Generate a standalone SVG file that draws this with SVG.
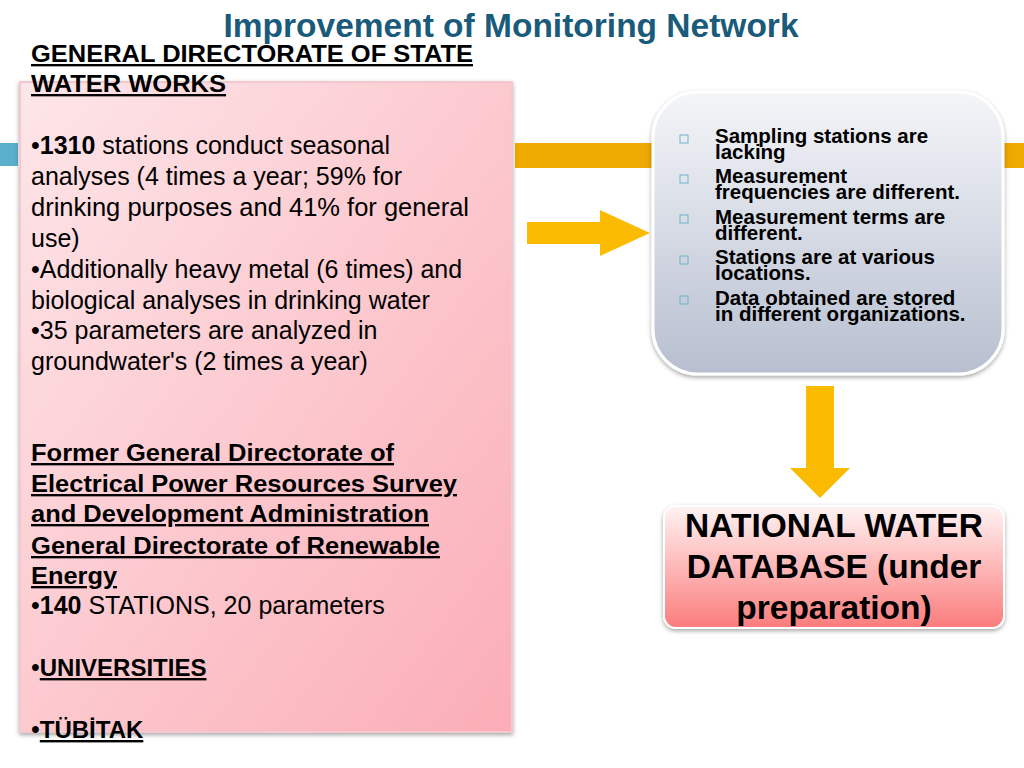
<svg xmlns="http://www.w3.org/2000/svg" width="1024" height="768" viewBox="0 0 1024 768">
<defs>
<linearGradient id="pink" x1="0" y1="0" x2="1" y2="1"><stop offset="0" stop-color="#fde6e9"/><stop offset="1" stop-color="#fbadb6"/></linearGradient>
<linearGradient id="grey" x1="0" y1="0" x2="0" y2="1"><stop offset="0" stop-color="#f4f5f8"/><stop offset="1" stop-color="#b7bfd0"/></linearGradient>
<linearGradient id="red" x1="0" y1="0" x2="0" y2="1"><stop offset="0" stop-color="#fff3f3"/><stop offset="1" stop-color="#fb7c7c"/></linearGradient>
<filter id="sh" x="-5%" y="-5%" width="110%" height="110%"><feDropShadow dx="0" dy="2" stdDeviation="2" flood-opacity="0.35"/></filter>
</defs>
<style>
text{font-family:"Liberation Sans",Arial,sans-serif;fill:#000}
.b{font-size:25px}
.h{font-size:23.5px;font-weight:bold;text-decoration:underline}
.s{font-size:20.5px;font-weight:bold}
.sq{fill:none;stroke:#6fb3c9;stroke-width:1}
</style>
<rect width="1024" height="768" fill="#fff"/>
<rect x="0" y="143" width="18" height="23" fill="#5aafcc"/>
<rect x="515" y="143" width="140" height="25" fill="#eeaa00"/>
<rect x="1003" y="143" width="21" height="25" fill="#eeaa00"/>
<text x="511" y="37" text-anchor="middle" style="font-size:33.5px;font-weight:bold;fill:#1a5a7a">Improvement of Monitoring Network</text>
<g id="left">
<rect x="20" y="82" width="492" height="650" fill="url(#pink)" stroke="#f3c9cf" stroke-width="2" filter="url(#sh)"/>
<text class="h" x="31" y="62" textLength="442" lengthAdjust="spacingAndGlyphs">GENERAL DIRECTORATE OF STATE</text>
<text class="h" x="31" y="92" textLength="195" lengthAdjust="spacingAndGlyphs">WATER WORKS</text>
<text class="b" x="31" y="154">•<tspan font-weight="bold">1310</tspan> stations conduct seasonal</text>
<text class="b" x="31" y="185">analyses (4 times a year; 59% for</text>
<text class="b" x="31" y="216" textLength="438" lengthAdjust="spacingAndGlyphs">drinking purposes and 41% for general</text>
<text class="b" x="31" y="247">use)</text>
<text class="b" x="31" y="278">•Additionally heavy metal (6 times) and</text>
<text class="b" x="31" y="309">biological analyses in drinking water</text>
<text class="b" x="31" y="339">•35 parameters are analyzed in</text>
<text class="b" x="31" y="370">groundwater's (2 times a year)</text>
<text class="h" x="31" y="461" textLength="363" lengthAdjust="spacingAndGlyphs">Former General Directorate of</text>
<text class="h" x="31" y="492" textLength="426" lengthAdjust="spacingAndGlyphs">Electrical Power Resources Survey</text>
<text class="h" x="31" y="522" textLength="398" lengthAdjust="spacingAndGlyphs">and Development Administration</text>
<text class="h" x="31" y="554" textLength="409" lengthAdjust="spacingAndGlyphs">General Directorate of Renewable</text>
<text class="h" x="31" y="584" textLength="86" lengthAdjust="spacingAndGlyphs">Energy</text>
<text class="b" x="31" y="614">•<tspan font-weight="bold">140</tspan> STATIONS, 20 parameters</text>
<text class="b" x="31" y="676">•<tspan class="h" style="font-size:24px">UNIVERSITIES</tspan></text>
<text class="b" x="31" y="738">•<tspan class="h" style="font-size:24px">TÜBİTAK</tspan></text>
</g>
<g id="connectors">
<polygon points="527,222 600,222 600,210 650,233 600,256 600,244 527,244" fill="#fbbb00"/>
<polygon points="806,386 834,386 834,468 850,468 820,498 790,468 806,468" fill="#fbbb00"/>
</g>
<g id="problems">
<rect x="653" y="92" width="350" height="282" rx="45" fill="url(#grey)" stroke="#fff" stroke-width="3" filter="url(#sh)"/>
<rect class="sq" x="680" y="135" width="8" height="8"/>
<rect class="sq" x="680" y="175" width="8" height="8"/>
<rect class="sq" x="680" y="215" width="8" height="8"/>
<rect class="sq" x="680" y="256" width="8" height="8"/>
<rect class="sq" x="680" y="296" width="8" height="8"/>
<text class="s" x="715" y="143">Sampling stations are</text>
<text class="s" x="715" y="159">lacking</text>
<text class="s" x="715" y="183">Measurement</text>
<text class="s" x="715" y="199">frequencies are different.</text>
<text class="s" x="715" y="224">Measurement terms are</text>
<text class="s" x="715" y="240">different.</text>
<text class="s" x="715" y="264">Stations are at various</text>
<text class="s" x="715" y="280">locations.</text>
<text class="s" x="715" y="305">Data obtained are stored</text>
<text class="s" x="715" y="321">in different organizations.</text>
</g>
<g id="database">
<rect x="664" y="506" width="340" height="122" rx="12" fill="url(#red)" stroke="#fff" stroke-width="2" filter="url(#sh)"/>
<text x="834" y="537" text-anchor="middle" style="font-size:33.5px;font-weight:bold">NATIONAL WATER</text>
<text x="834" y="578" text-anchor="middle" style="font-size:33.5px;font-weight:bold">DATABASE (under</text>
<text x="834" y="619" text-anchor="middle" style="font-size:33.5px;font-weight:bold">preparation)</text>
</g>
</svg>
